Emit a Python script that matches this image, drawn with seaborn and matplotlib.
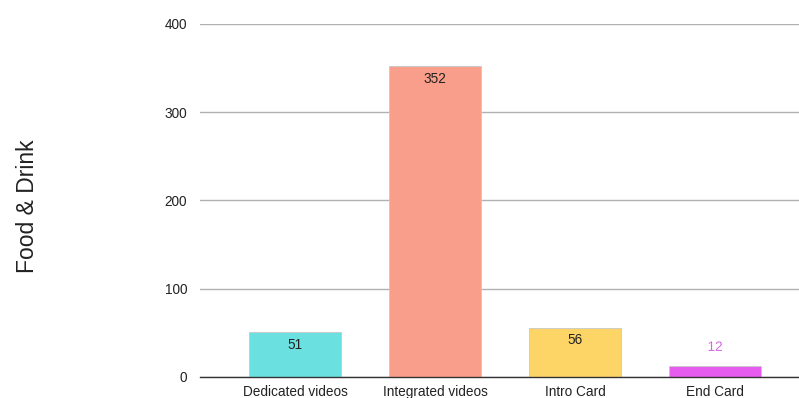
import matplotlib
matplotlib.use("Agg")
import matplotlib.pyplot as plt
import matplotlib.patheffects as pe
import pandas as pd
import seaborn as sns

categories = ["Dedicated videos", "Integrated videos", "Intro Card", "End Card"]
values = [51, 352, 56, 12]
colors = ["#6ae0e0", "#f99e8a", "#fdd466", "#e55cef"]
y_ticks = [0, 100, 200, 300, 400]

sns.set_style("white")
plt.rcParams["font.family"] = ["Liberation Sans", "DejaVu Sans"]

df = pd.DataFrame({"cat": categories, "val": values})

fig = plt.figure(figsize=(7.99, 3.98), dpi=100)
ax = fig.add_axes([0.25, 0.0528, 0.75, 0.887])

sns.barplot(data=df, x="cat", y="val", hue="cat", palette=colors, saturation=1,
            width=0.66, ax=ax, legend=False, edgecolor="#c8c8c8", linewidth=0.6)

ax.set_xlim(-0.68, 3.6)
ax.set_ylim(0, 400)
ax.set_yticks(y_ticks)
ax.yaxis.grid(True, color="#b0b0b0", linewidth=1)
ax.set_axisbelow(True)
for s in ["top", "right", "left"]:
    ax.spines[s].set_visible(False)
ax.spines["bottom"].set_color("#333333")
ax.spines["bottom"].set_linewidth(1)
ax.tick_params(axis="both", length=0, labelsize=9.8, colors="#222222", pad=9)
ax.tick_params(axis="x", pad=6)
ax.set_xlabel("")
ax.set_ylabel("")
fig.text(0.035, 0.482, "Food & Drink", rotation=90, ha="center", va="center",
         fontsize=16.5, color="#222222")

for i, (bar, v) in enumerate(zip(ax.patches, values)):
    x = bar.get_x() + bar.get_width() / 2
    if v > 30:
        ax.annotate(str(v), (x, v), xytext=(0, -4), textcoords="offset points",
                    ha="center", va="top", fontsize=9.8, color="#222222")
    else:
        t = ax.annotate(str(v), (x, v), xytext=(0, 9), textcoords="offset points",
                        ha="center", va="bottom", fontsize=9.8, color="#d266e0")
        t.set_path_effects([pe.withStroke(linewidth=2, foreground="white")])

fig.savefig("out.png", dpi=100)
